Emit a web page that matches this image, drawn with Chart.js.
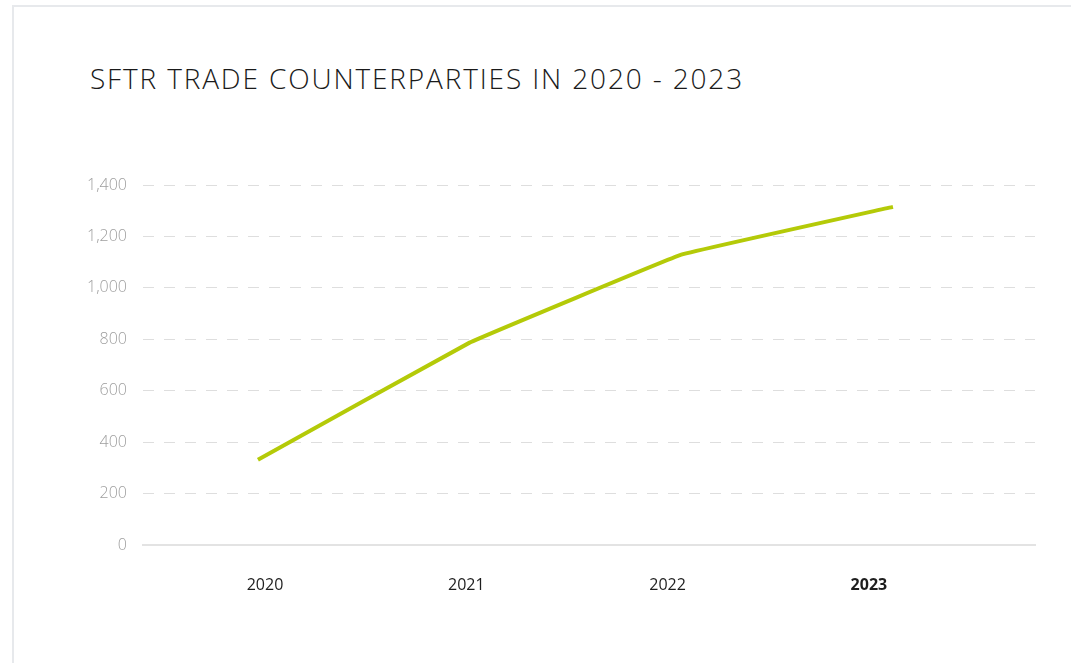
<!DOCTYPE html>
<html>
<head>
<meta charset="utf-8">
<script src="https://cdn.jsdelivr.net/npm/chart.js@4/dist/chart.umd.min.js"></script>
<style>
  html, body { margin: 0; padding: 0; background: #ffffff; }
  body { width: 1071px; height: 663px; overflow: hidden; position: relative; font-family: "Open Sans", sans-serif; }
  .card { position: absolute; left: 12px; top: 5px; width: 1100px; height: 700px; border: 2px solid #e7e9ec; box-sizing: border-box; background: #fff; }
  .title { position: absolute; left: 90px; top: 59px; font-size: 28px; font-weight: 300; color: #1a1a1a; letter-spacing: 1.85px; white-space: nowrap; }
  #wrap { position: absolute; left: 0; top: 0; width: 1071px; height: 663px; }
</style>
</head>
<body>
<div class="card"></div>
<div class="title">SFTR TRADE COUNTERPARTIES IN 2020 - 2023</div>
<div id="wrap"><canvas id="c"></canvas></div>
<script>
const years = ["2020", "2021", "2022", "2023"];
const counterparties = [332, 787, 1129, 1315];
const yTicks = [0, 200, 400, 600, 800, 1000, 1200, 1400];

const points = counterparties.map((v, i) => ({ x: i, y: v }));

new Chart(document.getElementById('c'), {
  type: 'line',
  data: {
    datasets: [{
      data: points,
      xAxisID: 'xLine',
      yAxisID: 'y',
      borderColor: '#b4ca08',
      borderWidth: 4,
      pointRadius: 0,
      pointHoverRadius: 0,
      tension: 0.05,
      fill: false,
      clip: false
    }]
  },
  options: {
    responsive: true,
    maintainAspectRatio: false,
    animation: false,
    devicePixelRatio: 1,
    layout: { padding: { left: 60, right: 36, top: 185, bottom: 0 } },
    plugins: { legend: { display: false }, tooltip: { enabled: false } },
    scales: {
      x: {
        type: 'linear',
        position: 'bottom',
        min: -0.606,
        max: 3.825,
        afterBuildTicks: (s) => { s.ticks = years.map((_, i) => ({ value: i })); },
        afterFit: (s) => { s.height = 118; },
        grid: { display: false, drawTicks: false },
        border: { display: true, color: '#e3e3e3', width: 2 },
        ticks: {
          padding: 31,
          color: '#1e1e1e',
          autoSkip: false,
          maxRotation: 0,
          callback: (v) => years[v],
          font: (ctx) => ({ family: '"Open Sans", sans-serif', size: 16, weight: ctx.index === years.length - 1 ? 'bold' : 'normal' })
        }
      },
      xLine: {
        type: 'linear',
        display: false,
        min: -0.543,
        max: 3.671
      },
      y: {
        min: 0,
        max: 1400,
        afterBuildTicks: (s) => { s.ticks = yTicks.map(v => ({ value: v })); },
        afterFit: (s) => { s.width = 83; },
        grid: { color: '#dedede', lineWidth: 1, drawTicks: false },
        border: { display: false, dash: [11, 10] },
        ticks: {
          padding: 16,
          color: '#9e9e9e',
          font: { family: '"Open Sans", sans-serif', size: 16, weight: '300' },
          callback: (v) => v.toLocaleString('en-US')
        }
      }
    }
  }
});
</script>
</body>
</html>
